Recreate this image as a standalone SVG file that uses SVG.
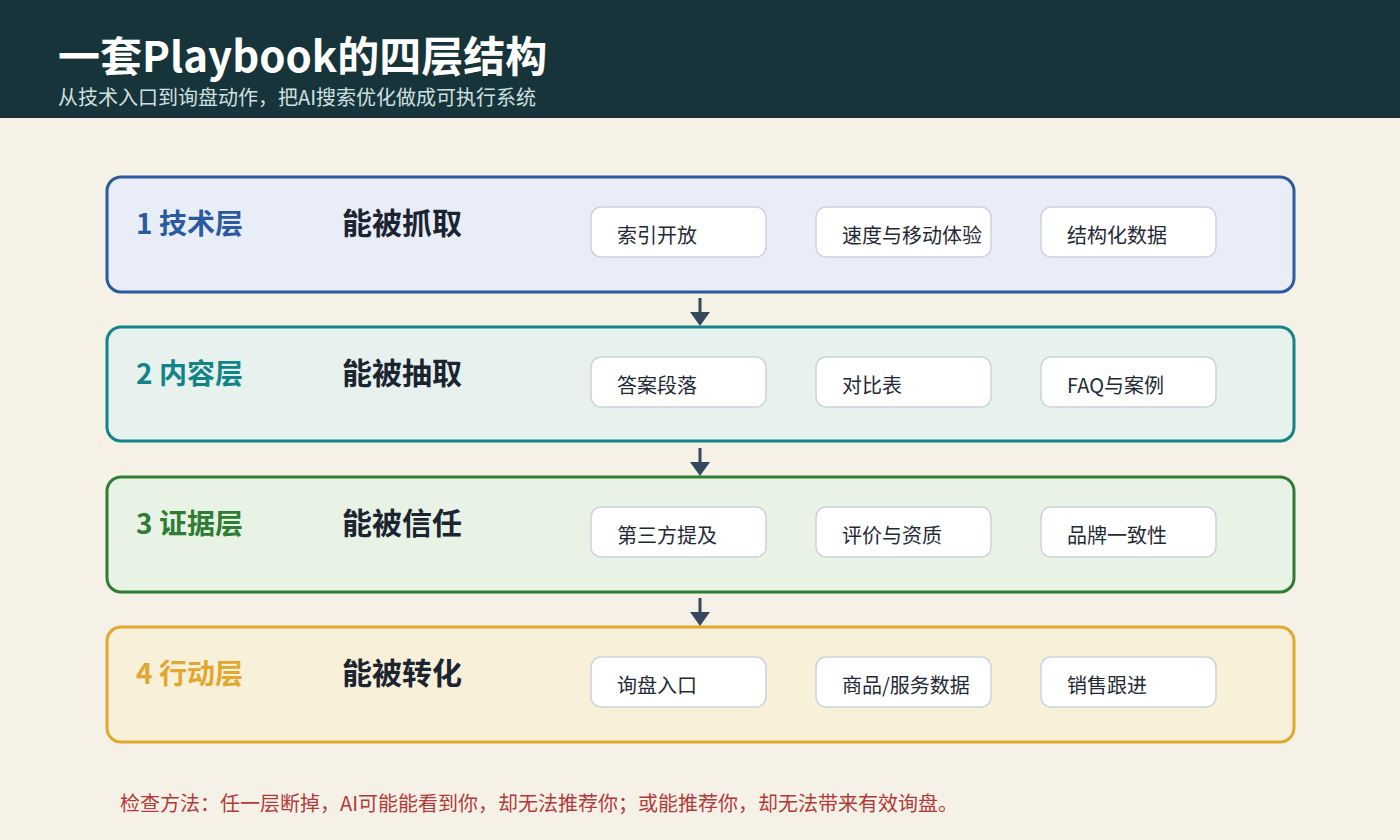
<svg xmlns="http://www.w3.org/2000/svg" width="1400" height="840" viewBox="0 0 1400 840">
<defs>
<style>
text{font-family:"Noto Sans CJK SC","Noto Sans",sans-serif}
.layer{stroke-width:3}
.lname{font-size:28px;font-weight:700}
.goal{font-size:30px;font-weight:700;fill:#1b2430}
.chip{fill:#ffffff;stroke:#cdd3dc;stroke-width:1.5}
.ct{font-size:20px;fill:#1f2a36}
.conn{stroke:#34495e;stroke-width:3}
.head{fill:#34495e}
</style>
</defs>
<rect x="0" y="0" width="1400" height="840" fill="#f6f1e6"/>
<g id="header">
<rect x="0" y="0" width="1400" height="118" fill="#17343b"/>
<text x="58" y="72" font-size="42" font-weight="700" fill="#ffffff">一套Playbook的四层结构</text>
<text x="58" y="105" font-size="20" fill="#cfe0e0">从技术入口到询盘动作，把AI搜索优化做成可执行系统</text>
</g>
<g id="layer1">
<rect class="layer" x="107" y="177" width="1187" height="115" rx="14" fill="#e8edf8" stroke="#2a5aa0"/>
<text class="lname" x="136" y="234" fill="#2a5aa0">1 技术层</text>
<text class="goal" x="342" y="234">能被抓取</text>
<rect class="chip" x="591" y="207" width="175" height="50" rx="10"/><text class="ct" x="617" y="243">索引开放</text>
<rect class="chip" x="816" y="207" width="175" height="50" rx="10"/><text class="ct" x="842" y="243">速度与移动体验</text>
<rect class="chip" x="1041" y="207" width="175" height="50" rx="10"/><text class="ct" x="1067" y="243">结构化数据</text>
</g>
<g id="layer2">
<rect class="layer" x="107" y="327" width="1187" height="114" rx="14" fill="#e7f2ef" stroke="#128488"/>
<text class="lname" x="136" y="384" fill="#128488">2 内容层</text>
<text class="goal" x="342" y="384">能被抽取</text>
<rect class="chip" x="591" y="357" width="175" height="50" rx="10"/><text class="ct" x="617" y="393">答案段落</text>
<rect class="chip" x="816" y="357" width="175" height="50" rx="10"/><text class="ct" x="842" y="393">对比表</text>
<rect class="chip" x="1041" y="357" width="175" height="50" rx="10"/><text class="ct" x="1067" y="393">FAQ与案例</text>
</g>
<g id="layer3">
<rect class="layer" x="107" y="477" width="1187" height="115" rx="14" fill="#e8f3e6" stroke="#2e7d32"/>
<text class="lname" x="136" y="534" fill="#2e7d32">3 证据层</text>
<text class="goal" x="342" y="534">能被信任</text>
<rect class="chip" x="591" y="507" width="175" height="50" rx="10"/><text class="ct" x="617" y="543">第三方提及</text>
<rect class="chip" x="816" y="507" width="175" height="50" rx="10"/><text class="ct" x="842" y="543">评价与资质</text>
<rect class="chip" x="1041" y="507" width="175" height="50" rx="10"/><text class="ct" x="1067" y="543">品牌一致性</text>
</g>
<g id="layer4">
<rect class="layer" x="107" y="627" width="1187" height="115" rx="14" fill="#f9f0d9" stroke="#e0a830"/>
<text class="lname" x="136" y="684" fill="#e0a830">4 行动层</text>
<text class="goal" x="342" y="684">能被转化</text>
<rect class="chip" x="591" y="657" width="175" height="50" rx="10"/><text class="ct" x="617" y="693">询盘入口</text>
<rect class="chip" x="816" y="657" width="175" height="50" rx="10"/><text class="ct" x="842" y="693">商品/服务数据</text>
<rect class="chip" x="1041" y="657" width="175" height="50" rx="10"/><text class="ct" x="1067" y="693">销售跟进</text>
</g>
<g id="connectors">
<line class="conn" x1="700" y1="298" x2="700" y2="314"/><polygon class="head" points="690,312 710,312 700,326"/>
<line class="conn" x1="700" y1="448" x2="700" y2="464"/><polygon class="head" points="690,462 710,462 700,476"/>
<line class="conn" x1="700" y1="598" x2="700" y2="614"/><polygon class="head" points="690,612 710,612 700,626"/>
</g>
<g id="footer">
<text x="120" y="811" font-size="20" fill="#b23a3a">检查方法：任一层断掉，AI可能能看到你，却无法推荐你；或能推荐你，却无法带来有效询盘。</text>
</g>
</svg>
